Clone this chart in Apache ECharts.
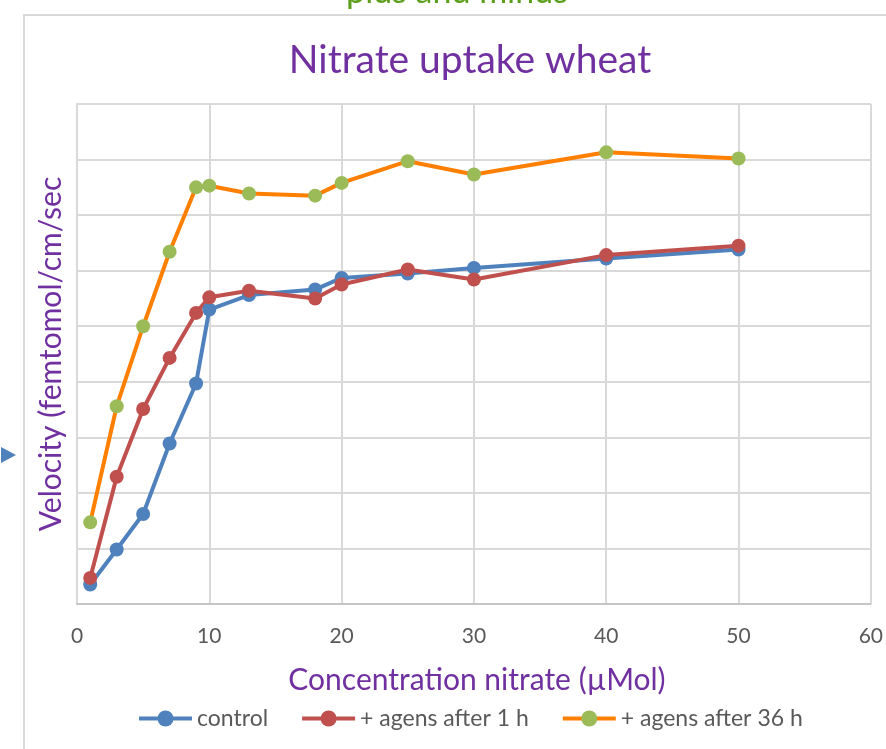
<!DOCTYPE html>
<html>
<head>
<meta charset="utf-8">
<script src="https://cdn.jsdelivr.net/npm/echarts@6/dist/echarts.min.js"></script>
<style>html,body{margin:0;padding:0;background:#fff;}#c{width:886px;height:749px;}</style>
</head>
<body>
<div id="c"></div>
<script>
const concentration = [1, 3, 5, 7, 9, 10, 13, 18, 20, 25, 30, 40, 50];
const control =      [0.35, 0.98, 1.62, 2.89, 3.97, 5.3, 5.56, 5.66, 5.87, 5.95, 6.05, 6.22, 6.38];
const agens1h =      [0.47, 2.29, 3.51, 4.43, 5.24, 5.52, 5.64, 5.5, 5.75, 6.02, 5.84, 6.28, 6.45];
const agens36h =     [1.47, 3.56, 5.0, 6.34, 7.5, 7.53, 7.39, 7.35, 7.58, 7.97, 7.73, 8.13, 8.02];
const seriesNames = ['control', '+ agens after 1 h', '+ agens after 36 h'];
const xTicks = [0, 10, 20, 30, 40, 50, 60];

const FONT = 'Lato';
const pairs = arr => concentration.map((c, i) => [c, arr[i]]);

const chart = echarts.init(document.getElementById('c'));
const mk = (name, data, lineColor, markColor) => ({
  name: name, type: 'line', data: pairs(data),
  symbol: 'circle', symbolSize: 14,
  lineStyle: { color: lineColor, width: 4 },
  itemStyle: { color: markColor },
  emphasis: { disabled: true },
  animation: false
});

chart.setOption({
  animation: false,
  textStyle: { fontFamily: FONT },
  grid: { left: 77, right: 10, top: 104, bottom: 145, containLabel: false },
  title: {
    text: 'Nitrate uptake wheat', left: 465, top: 36, textAlign: 'center',
    textStyle: { color: '#7030a0', fontSize: 39, fontWeight: 'normal', fontFamily: FONT }
  },
  legend: {
    top: 702, left: 132,
    itemWidth: 53, itemHeight: 20, itemGap: 32,
    lineStyle: { width: 4 },
    textStyle: { color: '#595959', fontSize: 23, fontFamily: FONT },
    data: seriesNames
  },
  xAxis: {
    type: 'value', min: 0, max: 60, interval: 10,
    axisLine: { show: true, lineStyle: { color: '#bfbfbf', width: 1.5 } },
    axisTick: { show: false },
    axisLabel: { color: '#595959', fontSize: 21, margin: 22, fontFamily: FONT, formatter: v => xTicks.includes(v) ? String(v) : '' },
    splitLine: { show: true, lineStyle: { color: '#d9d9d9', width: 2 } }
  },
  yAxis: {
    type: 'value', min: 0, max: 9, interval: 1,
    axisLine: { show: true, lineStyle: { color: '#d9d9d9', width: 2 } },
    axisTick: { show: false },
    axisLabel: { show: false },
    splitLine: { show: true, lineStyle: { color: '#d9d9d9', width: 2 } }
  },
  graphic: [
    { type: 'rect', shape: { x: 24, y: 15, width: 900, height: 800 }, style: { fill: 'none', stroke: '#d9d9d9', lineWidth: 2 }, silent: true, z: -1 },
    { type: 'polygon', shape: { points: [[1, 447], [16, 455], [1, 463]] }, style: { fill: '#4f81bd' }, silent: true },
    { type: 'text', style: { text: 'plus and minus', x: 457, y: 9, align: 'center', verticalAlign: 'bottom', fill: '#5b9f1c', font: '34px ' + FONT }, silent: true },
    { type: 'text', style: { text: 'Concentration nitrate (µMol)', x: 477, y: 680, align: 'center', verticalAlign: 'middle', fill: '#7030a0', font: '30px ' + FONT }, silent: true },
    { type: 'text', rotation: Math.PI / 2, x: 51, y: 354, style: { text: 'Velocity (femtomol/cm/sec', x: 0, y: 0, align: 'center', verticalAlign: 'middle', fill: '#7030a0', font: '30px ' + FONT }, silent: true }
  ],
  series: [
    mk(seriesNames[0], control, '#4f81bd', '#4f81bd'),
    mk(seriesNames[1], agens1h, '#c0504d', '#c0504d'),
    mk(seriesNames[2], agens36h, '#ff7f00', '#9bbb59')
  ]
});
</script>
</body>
</html>
